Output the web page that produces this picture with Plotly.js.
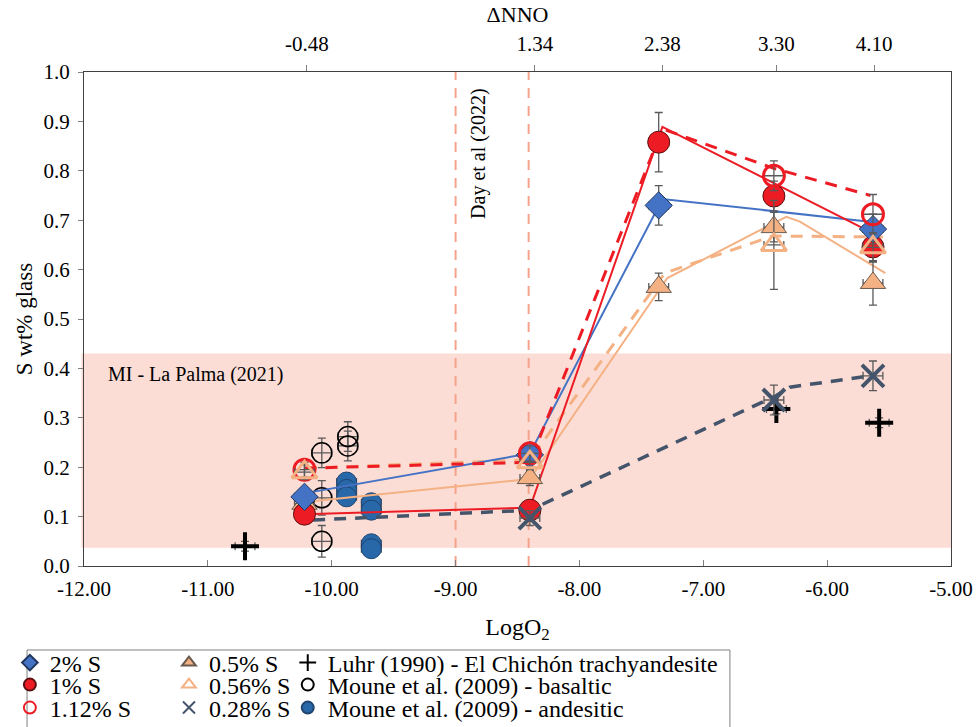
<!DOCTYPE html>
<html>
<head>
<meta charset="utf-8">
<script src="https://cdn.plot.ly/plotly-3.0.1.min.js"></script>
<style>html,body{margin:0;padding:0;background:#fff;}#chart{width:980px;height:727px;}</style>
</head>
<body>
<div id="chart"></div>
<script>
// ---------- DATA ----------
const modelX = [-10.22, -8.40, -7.36, -6.43, -5.63];
const s2pct = [0.14, 0.225, 0.73, null, 0.682];
const s2pctErr = [0.015, 0.015, 0.04, 0, 0.03];
const s1pct = [0.105, 0.113, 0.858, 0.749, 0.646];
const s1pctErr = [0.015, 0.015, 0.06, 0.03, 0.03];
const s112pct = [0.195, 0.228, null, 0.79, 0.712];
const s112pctErr = [0.015, 0.015, 0, 0.03, 0.04];
const s05pct = [0.126, 0.178, 0.565, 0.686, 0.573];
const s05pctErr = [0.015, 0.015, 0.028, 0.03, 0.045];
const s056pct = [0.19, 0.21, null, 0.65, 0.645];
const s056pctErr = [0.015, 0.015, 0, 0.09, 0.03];
const s028pct = [null, 0.097, null, 0.336, 0.385];
const s028pctErr = [0, 0.015, 0, 0.03, 0.03];
const xErr = 0.08;

// trend lines
const line1X = [-10.22, -8.40, -7.33, -5.60];
const line1Y = [0.105, 0.118, 0.889, 0.670];
const line112X = [-10.22, -8.40, -7.33, -6.43, -5.65];
const line112Y = [0.198, 0.210, 0.885, 0.805, 0.750];
const line2X = [-10.20, -8.40, -7.33, -5.62];
const line2Y = [0.148, 0.228, 0.743, 0.696];
const line05X = [-10.20, -8.40, -7.29, -6.41, -6.33, -6.22, -5.53];
const line05Y = [0.130, 0.176, 0.583, 0.698, 0.707, 0.697, 0.593];
const line056X = [-10.22, -8.40, -7.31, -6.44, -5.55];
const line056Y = [0.198, 0.215, 0.593, 0.668, 0.666];
const line028X = [-10.15, -8.40, -6.41, -6.30, -5.65];
const line028Y = [0.093, 0.113, 0.345, 0.362, 0.385];

// literature data
const luhrX = [-10.70, -6.41, -5.58];
const luhrY = [0.040, 0.318, 0.290];
const mouneBasX = [-10.08, -9.87, -9.87, -10.08, -10.08];
const mouneBasY = [0.229, 0.262, 0.243, 0.138, 0.050];
const mouneAndX = [-9.88, -9.88, -9.88, -9.68, -9.68, -9.68, -9.68];
const mouneAndY = [0.170, 0.155, 0.140, 0.128, 0.113, 0.045, 0.035];

// axis / reference info
const bottomTickVals = [-12, -11, -10, -9, -8, -7, -6, -5];
const bottomTickText = bottomTickVals.map(v => v.toFixed(2));
const topTickVals = [-10.20, -8.36, -7.33, -6.41, -5.62];
const topTickText = ['-0.48', '1.34', '2.38', '3.30', '4.10'];
const dayLinesX = [-9.00, -8.41];
const laPalmaRange = [0.037, 0.43];

// ---------- STYLE ----------
const FONT = 'Liberation Serif';
const RED = '#ED1C24', BLUE = '#4472C4', ORANGE = '#F4B183', DARK = '#44546A', ANDES = '#2868A8';
const ERRC = '#595959';

function errs(arr){ return {type:'data', array: arr, visible:true, color:ERRC, thickness:1.3, width:4}; }
function errx(){ return {type:'constant', value:xErr, visible:true, color:ERRC, thickness:1.3, width:4}; }

const traces = [];
// helper trace so the top (ΔNNO) axis is drawn
traces.push({x:[], y:[], xaxis:'x2', yaxis:'y', mode:'markers', type:'scatter', showlegend:false, hoverinfo:'skip'});

// literature points
traces.push({x:mouneBasX, y:mouneBasY, mode:'markers', type:'scatter', name:'Moune et al. (2009) - basaltic', legend:'legend8',
  marker:{symbol:'circle-open', size:20, color:'#000', line:{width:1.5, color:'#000'}},
  error_y:errs([0.03,0.03,0.03,0.035,0.032]), error_x:errx()});
traces.push({x:mouneAndX, y:mouneAndY, mode:'markers', type:'scatter', name:'Moune et al. (2009) - andesitic', legend:'legend9',
  marker:{symbol:'circle', size:20, color:ANDES, line:{width:1, color:'#1F4470'}},
  error_y:errs([0.01,0.01,0.01,0.01,0.01,0.01,0.01]), error_x:errx()});
traces.push({x:luhrX, y:luhrY, mode:'markers', type:'scatter', name:'Luhr (1990) - El Chichón trachyandesite', legend:'legend7',
  marker:{symbol:'cross-thin-open', size:20, color:'#000', line:{width:4, color:'#000'}},
  error_y:errs([0.01,0.01,0.01]), error_x:errx()});

// lines
function ln(x,y,color,dash,w){ return {x:x, y:y, mode:'lines', type:'scatter', showlegend:false, hoverinfo:'skip',
  line:{color:color, width:w, dash:dash}}; }
traces.push(ln(line028X, line028Y, DARK, '12px,9px', 3.5));
traces.push(ln(line056X, line056Y, ORANGE, '12px,9px', 3));
traces.push(ln(line05X, line05Y, ORANGE, 'solid', 2));
traces.push(ln(line2X, line2Y, BLUE, 'solid', 2));
traces.push(ln(line112X, line112Y, RED, '12px,9px', 3));
traces.push(ln(line1X, line1Y, RED, 'solid', 2));

// model markers
traces.push({x:modelX, y:s05pct, mode:'markers', type:'scatter', name:'0.5% S', legend:'legend4',
  marker:{symbol:'triangle-up', size:22, color:ORANGE, line:{width:1, color:'#6b5a4e'}},
  error_y:errs(s05pctErr), error_x:errx()});
traces.push({x:modelX, y:s1pct, mode:'markers', type:'scatter', name:'1% S', legend:'legend2',
  marker:{symbol:'circle', size:22, color:RED, line:{width:1, color:'#5a1010'}},
  error_y:errs(s1pctErr), error_x:errx()});
traces.push({x:modelX, y:s2pct, mode:'markers', type:'scatter', name:'2% S', legend:'legend',
  marker:{symbol:'diamond', size:21, color:BLUE, line:{width:1, color:'#22375e'}},
  error_y:errs(s2pctErr), error_x:errx()});
traces.push({x:modelX, y:s112pct, mode:'markers', type:'scatter', name:'1.12% S', legend:'legend3',
  marker:{symbol:'circle-open', size:21, color:RED, line:{width:3, color:RED}},
  error_y:errs(s112pctErr), error_x:errx()});
traces.push({x:modelX, y:s056pct, mode:'markers', type:'scatter', name:'0.56% S', legend:'legend5',
  marker:{symbol:'triangle-up-open', size:22, color:ORANGE, line:{width:3, color:ORANGE}},
  error_y:errs(s056pctErr), error_x:errx()});
traces.push({x:modelX, y:s028pct, mode:'markers', type:'scatter', name:'0.28% S', legend:'legend6',
  marker:{symbol:'x-thin-open', size:22, color:DARK, line:{width:4, color:DARK}},
  error_y:errs(s028pctErr), error_x:errx()});

// ---------- LEGENDS (one per entry, laid out as a 3x3 grid) ----------
const colX = [-0.0855, 0.098, 0.235];
const rowY = [-0.1964, -0.2409, -0.2874];
function leg(c, r){ return {x:colX[c], y:rowY[r], xanchor:'left', yanchor:'middle', bgcolor:'rgba(0,0,0,0)', borderwidth:0,
  font:{family:FONT, size:24, color:'#000'}, itemsizing:'constant'}; }

const layout = {
  width:980, height:727,
  margin:{l:84, r:29, t:72, b:161, autoexpand:false},
  paper_bgcolor:'#fff', plot_bgcolor:'#fff',
  font:{family:FONT, size:21, color:'#000'},
  showlegend:true,
  legend:leg(0,0), legend2:leg(0,1), legend3:leg(0,2),
  legend4:leg(1,0), legend5:leg(1,1), legend6:leg(1,2),
  legend7:leg(2,0), legend8:leg(2,1), legend9:leg(2,2),
  xaxis:{range:[-12,-5], tickmode:'array', tickvals:bottomTickVals, ticktext:bottomTickText,
    ticks:'inside', ticklen:6, tickcolor:'#7f7f7f', ticklabelstandoff:4, automargin:false,
    showline:true, linecolor:'#404040', linewidth:1, mirror:true, showgrid:false, zeroline:false,
    tickfont:{family:FONT, size:21}, title:{text:'LogO<sub>2</sub>', font:{family:FONT, size:24}, standoff:17}},
  xaxis2:{overlaying:'x', side:'top', range:[-12,-5], tickmode:'array', tickvals:topTickVals, ticktext:topTickText,
    ticks:'outside', ticklen:6, tickcolor:'#7f7f7f', ticklabelstandoff:6, automargin:false,
    showline:false, showgrid:false, zeroline:false,
    tickfont:{family:FONT, size:21}, title:{text:'ΔNNO', font:{family:FONT, size:22}, standoff:2}},
  yaxis:{range:[0,1], tick0:0, dtick:0.1, tickformat:'.1f', ticks:'outside', ticklen:5, tickcolor:'#7f7f7f',
    ticklabelstandoff:4, automargin:false,
    showline:true, linecolor:'#404040', linewidth:1, mirror:true, showgrid:false, zeroline:false,
    tickfont:{family:FONT, size:21}, title:{text:'S wt% glass', font:{family:FONT, size:23}, standoff:4}},
  shapes:[
    {type:'rect', xref:'paper', yref:'y', x0:-0.003, x1:1, y0:laPalmaRange[0], y1:laPalmaRange[1],
      fillcolor:'#FBDDD6', line:{width:0}, layer:'below'},
    {type:'line', xref:'x', yref:'paper', x0:dayLinesX[0], x1:dayLinesX[0], y0:0, y1:1,
      line:{color:'#F5A38C', width:2, dash:'10px,8px'}, layer:'below'},
    {type:'line', xref:'x', yref:'paper', x0:dayLinesX[1], x1:dayLinesX[1], y0:0, y1:1,
      line:{color:'#F5A38C', width:2, dash:'10px,8px'}, layer:'below'},
    {type:'rect', xref:'paper', yref:'paper', x0:-0.0657, x1:0.745, y0:-0.36, y1:-0.170,
      line:{color:'#7f7f7f', width:1}, fillcolor:'rgba(0,0,0,0)'}
  ],
  annotations:[
    {text:'MI - La Palma (2021)', x:-11.82, y:0.387, xref:'x', yref:'y', xanchor:'left', yanchor:'middle',
      showarrow:false, font:{family:FONT, size:20, color:'#000'}},
    {text:'Day et al (2022)', x:-8.82, y:0.836, xref:'x', yref:'y', xanchor:'center', yanchor:'middle',
      textangle:-90, showarrow:false, font:{family:FONT, size:20, color:'#000'}}
  ]
};

Plotly.newPlot('chart', traces, layout, {displayModeBar:false, staticPlot:true});
</script>
</body>
</html>
